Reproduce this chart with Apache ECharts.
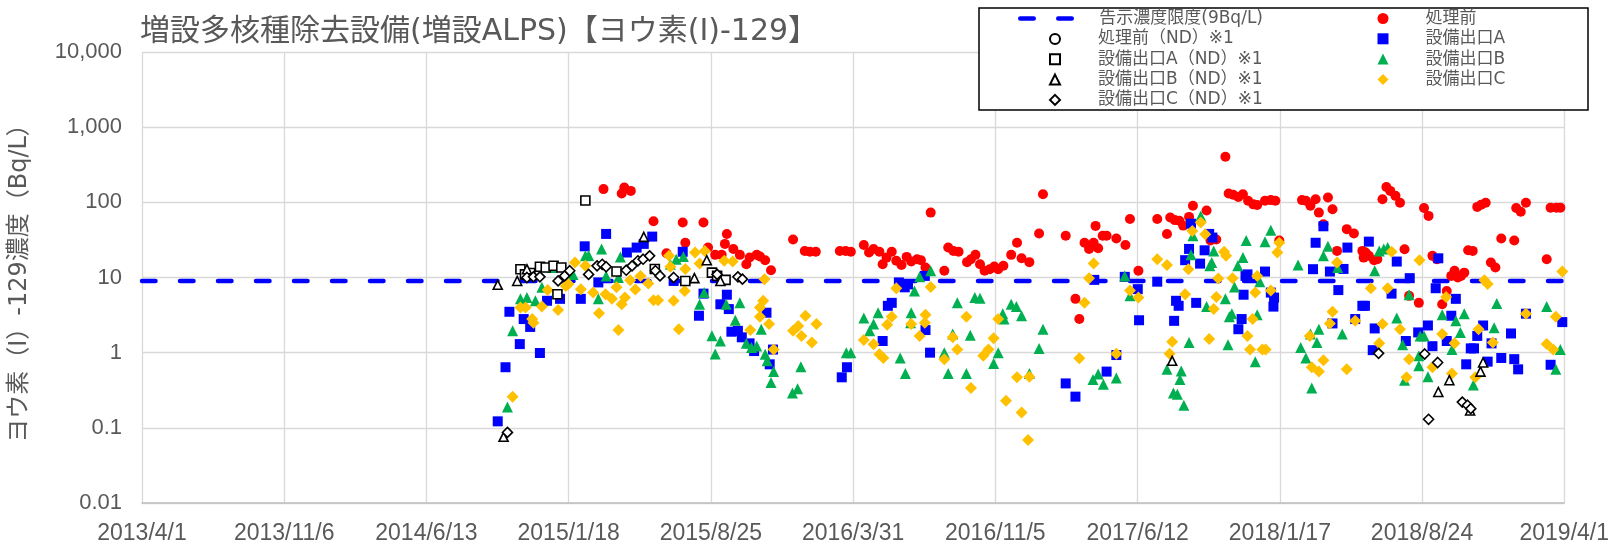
<!DOCTYPE html>
<html><head><meta charset="utf-8">
<script src="https://cdn.jsdelivr.net/npm/echarts@6/dist/echarts.min.js"></script>
<style>html,body{margin:0;padding:0;background:#fff}#c{width:1612px;height:545px}</style>
</head><body><div id="c"></div>
<script>
// ---- data ----
const chartTitle = '増設多核種除去設備(増設ALPS)【ヨウ素(I)-129】';
const yAxisName = 'ヨウ素（I）-129濃度（Bq/L）';
const xTickLabels = ['2013/4/1','2013/11/6','2014/6/13','2015/1/18','2015/8/25','2016/3/31','2016/11/5','2017/6/12','2018/1/17','2018/8/24','2019/4/1'];
const yTickLabels = ['0.01','0.1','1','10','100','1,000','10,000'];
const seriesNames = ['告示濃度限度(9Bq/L)','処理前（ND）※1','設備出口A（ND）※1','設備出口B（ND）※1','設備出口C（ND）※1','処理前','設備出口A','設備出口B','設備出口C'];
const limitValue = 9;
const limitRange = ['2013/4/1','2019/4/1'];

const beforeND = [];

const outletAND = [["2014/11/5",12.9],["2014/11/12",11],["2014/11/20",11.5],["2014/12/5",13.9],["2014/12/14",13.6],["2014/12/26",14.3],["2015/1/1",6],["2015/1/7",13.6],["2015/2/13",106],["2015/4/2",12],["2015/5/31",13],["2015/7/17",9],["2015/8/27",11.6],["2015/9/4",10.5],["2015/9/17",9.3]];

const outletBND = [["2014/10/1",8.0],["2014/10/10",0.076],["2014/10/31",9],["2014/11/15",12.9],["2015/5/14",34.7],["2015/7/31",9.8],["2015/8/19",17],["2015/9/9",9],["2017/8/5",0.78],["2018/9/19",0.3],["2018/10/6",0.43],["2018/11/7",0.17],["2018/11/23",0.56],["2018/11/27",0.74]];

const outletCND = [["2014/10/16",0.087],["2014/11/15",10],["2014/11/25",10.2],["2014/12/5",10.2],["2015/1/2",9],["2015/1/12",10.5],["2015/1/20",12.3],["2015/2/18",11],["2015/3/3",14.3],["2015/3/11",15],["2015/3/17",13.9],["2015/4/17",12.5],["2015/4/26",14.3],["2015/5/5",16.7],["2015/5/13",17.5],["2015/5/23",19.4],["2015/6/1",12.3],["2015/6/8",10.5],["2015/6/29",10],["2015/9/4",11],["2015/10/6",10.2],["2015/10/13",9.5],["2018/6/19",0.98],["2018/8/29",0.96],["2018/9/4",0.13],["2018/9/18",0.74],["2018/10/26",0.22],["2018/11/3",0.2],["2018/11/8",0.18]];

const beforeTreatment = [["2015/3/13",150],["2015/4/10",131],["2015/4/14",157],["2015/4/24",142],["2015/5/29",56],
["2015/6/18",21],["2015/7/13",54],["2015/7/17",29],["2015/8/14",54],["2015/8/21",25],["2015/9/1",20],["2015/9/11",20],["2015/9/16",28],["2015/9/19",38],["2015/9/29",24],["2015/10/9",20],["2015/10/19",15],["2015/10/24",18.5],["2015/11/4",20],["2015/11/9",19],["2015/11/17",17],["2015/11/26",12.5],["2015/12/30",32],["2016/1/17",22.5],["2016/1/25",22],["2016/2/3",22],["2016/3/11",22.5],["2016/3/20",22.5],["2016/3/28",22],
["2016/4/17",27],["2016/4/25",21.5],["2016/5/2",24],["2016/5/11",22],["2016/5/16",15],["2016/5/22",18.4],["2016/5/30",22],["2016/6/6",16.7],["2016/6/14",14.7],["2016/6/22",18.8],["2016/6/29",16.3],["2016/7/8",17.5],["2016/7/14",17],["2016/7/21",13.6],["2016/7/29",73],["2016/8/19",12.3],["2016/8/25",25],["2016/9/2",22.6],["2016/9/10",22],["2016/9/23",16],["2016/9/29",17.5],["2016/10/6",20],["2016/10/13",15],["2016/10/20",12.3],["2016/10/28",12.9],["2016/11/4",14],
["2016/11/10",12.9],["2016/11/18",14.3],["2016/11/30",20],["2016/12/9",29],["2016/12/16",18],["2016/12/28",16],["2017/1/12",38.5],["2017/1/18",128],["2017/2/22",36],["2017/3/9",5.2],["2017/3/15",2.8],["2017/3/23",29],["2017/3/30",24],["2017/4/6",29],["2017/4/9",48.6],["2017/4/13",24.5],["2017/4/20",36],["2017/4/26",36],["2017/5/11",33],["2017/5/25",27],["2017/6/1",60],
["2017/6/14",12.3],["2017/7/13",60],["2017/7/28",38],["2017/8/2",63],["2017/8/9",58],["2017/8/16",57],["2017/8/22",49],["2017/8/31",64],["2017/9/6",90],["2017/9/27",78],["2017/10/3",31],["2017/10/12",32],["2017/10/26",403],["2017/10/31",131],["2017/11/7",126],["2017/11/15",118],["2017/11/22",128],["2017/11/30",105],["2017/12/8",94],["2017/12/14",92],["2017/12/26",105],["2018/1/4",107],["2018/1/11",105],
["2018/1/17",31],["2018/2/21",107],["2018/2/27",105],["2018/3/6",90],["2018/3/14",110],["2018/3/19",73],["2018/3/26",51],["2018/4/2",116],["2018/4/9",81],["2018/4/16",22.6],["2018/5/1",44],["2018/5/12",38.5],["2018/5/25",22.6],["2018/5/27",18.4],["2018/5/30",21.5],["2018/6/4",19.4],["2018/6/12",17],["2018/6/17",17.5],["2018/6/25",110],["2018/7/1",160],["2018/7/7",142],["2018/7/15",122],["2018/7/22",99],["2018/7/29",23.8],["2018/8/5",5.7],["2018/8/20",4.6],
["2018/8/28",84],["2018/9/4",66],["2018/9/10",19.4],["2018/9/17",17.5],["2018/9/25",4.4],["2018/10/2",6.6],["2018/10/9",10.5],["2018/10/14",12.3],["2018/10/19",10],["2018/10/24",10.5],["2018/10/29",11.6],["2018/11/4",23],["2018/11/11",22.6],["2018/11/18",87],["2018/11/24",93],["2018/12/1",99],["2018/12/9",15.8],["2018/12/16",13.6],["2018/12/25",33],["2019/1/14",31],["2019/1/17",84],["2019/1/24",75],["2019/2/1",99],["2019/3/5",17.5],["2019/3/11",85],["2019/3/20",85],["2019/3/26",85]];

const outletA = [["2014/10/1",0.122],["2014/10/13",0.64],["2014/10/19",3.5],["2014/11/4",1.3],["2014/11/10",2.8],["2014/11/20",2.2],["2014/12/5",0.99],["2014/12/16",4.9],["2015/1/5",5.2],["2015/2/6",5.2],["2015/2/12",26],["2015/3/5",8.6],["2015/3/17",38],["2015/4/18",21.5],["2015/5/3",25],["2015/5/14",28],["2015/5/27",35],
["2015/6/29",9],["2015/7/13",22],["2015/8/7",3.1],["2015/8/14",6.1],["2015/9/9",4.4],["2015/9/19",5.9],["2015/9/22",3.8],["2015/9/26",1.9],["2015/10/6",1.95],["2015/10/12",1.6],["2015/10/24",1.33],["2015/10/31",1.05],["2015/11/19",3.4],["2015/11/24",0.7],["2015/11/29",1.1],["2016/3/14",0.47],["2016/3/22",0.64],
["2016/5/16",1.43],["2016/5/24",4.2],["2016/5/30",4.6],["2016/6/10",8.6],["2016/6/19",7.4],["2016/6/24",8.1],["2016/7/20",10.5],["2016/7/21",2.0],["2016/7/28",1.0],
["2017/2/22",0.39],["2017/3/9",0.26],["2017/4/7",9.3],["2017/4/26",0.56],["2017/5/11",0.93],["2017/5/24",10.2],["2017/6/13",7],["2017/6/15",2.7],
["2017/7/13",8.8],["2017/8/8",2.65],["2017/8/11",4.9],["2017/8/15",4.2],["2017/8/25",17],["2017/8/31",24],["2017/9/3",52],["2017/9/11",4.6],["2017/9/17",15.3],["2017/9/24",23],["2017/10/1",38],["2017/10/6",34],["2017/11/15",2.05],["2017/11/20",2.8],["2017/11/23",5.9],["2017/11/26",10.5],["2017/11/29",11],["2017/12/26",12],["2018/1/4",6.3],["2018/1/8",4.1],["2018/1/9",5.4],
["2018/3/10",12.9],["2018/3/14",29],["2018/3/26",48],["2018/4/5",12],["2018/4/9",2.45],["2018/4/18",6.8],["2018/4/26",13],["2018/5/2",25],["2018/5/14",2.8],["2018/5/25",4.2],["2018/5/29",4.2],["2018/6/4",30],["2018/6/10",1.08],["2018/6/13",2.1],["2018/7/9",6.1],["2018/7/17",16.3],["2018/7/31",1.43],["2018/8/6",9.8],["2018/8/19",1.86],
["2018/9/3",2.3],["2018/9/10",1.22],["2018/9/15",7.2],["2018/9/19",18],["2018/10/2",1.43],["2018/10/9",3.1],["2018/10/16",5.2],["2018/11/1",0.7],["2018/11/8",1.14],["2018/11/13",1.14],["2018/11/18",1.67],["2018/11/27",2.3],["2018/12/4",0.76],["2018/12/10",1.33],["2018/12/25",0.85],["2019/1/9",1.8],["2019/1/14",0.82],["2019/1/20",0.6],["2019/2/1",3.3],["2019/3/11",0.69],["2019/3/29",2.55]];

const outletB = [["2014/10/16",0.19],["2014/10/24",1.95],["2014/11/5",5.2],["2014/11/15",5.4],["2014/11/28",4.9],["2014/12/8",7.4],["2014/12/24",13.6],["2015/1/25",11],["2015/2/13",19.4],["2015/2/18",19.6],["2015/3/5",5.2],["2015/3/10",24],["2015/3/17",10.5],["2015/4/5",10],["2015/4/8",18.8],
["2015/6/24",15],["2015/7/3",17.5],["2015/7/14",19],["2015/8/8",4.4],["2015/8/15",6.3],["2015/8/27",1.68],["2015/9/1",0.96],["2015/9/9",1.43],["2015/9/18",4.4],["2015/10/2",2.7],["2015/10/9",4.6],["2015/10/19",1.33],["2015/10/27",1.17],["2015/11/4",1.23],["2015/11/11",2.05],["2015/11/17",0.95],["2015/11/20",0.78],["2015/11/26",0.4],["2015/11/30",0.56],["2015/12/29",0.29],["2016/1/6",0.33],["2016/1/11",0.65],["2016/3/21",1.0],["2016/3/28",1.0],
["2016/4/17",2.9],["2016/4/26",1.95],["2016/5/2",2.4],["2016/5/9",3.4],["2016/6/12",0.85],["2016/6/20",0.53],["2016/6/28",2.5],["2016/6/29",3.4],["2016/7/4",6.6],["2016/7/12",10.2],["2016/7/29",12.3],["2016/8/19",1.0],["2016/8/25",0.53],["2016/9/1",1.77],["2016/9/8",4.6],["2016/9/22",0.53],["2016/9/28",1.7],["2016/10/5",5.4],["2016/10/13",5.3],["2016/11/3",0.72],
["2016/11/10",1.0],["2016/11/17",3.3],["2016/11/19",2.8],["2016/11/30",4.4],["2016/12/8",4.1],["2016/12/16",3.1],["2016/12/28",0.53],["2017/1/12",1.14],["2017/1/18",2.05],["2017/4/5",0.44],["2017/4/13",0.52],["2017/4/21",0.38],["2017/5/11",0.46],["2017/5/24",10.5],["2017/6/1",5.7],
["2017/7/28",0.6],["2017/8/7",0.29],["2017/8/13",0.28],["2017/8/17",0.44],["2017/8/19",0.57],["2017/8/23",0.2],["2017/8/31",1.37],["2017/9/3",20],["2017/9/6",36],["2017/9/18",66],["2017/9/27",4.1],["2017/10/2",14.3],["2017/10/5",15.8],["2017/10/8",22.6],["2017/10/26",5.2],["2017/10/30",1.27],["2017/11/1",3.0],["2017/11/5",3.3],["2017/11/9",7.5],["2017/11/14",14.3],["2017/11/22",18.4],["2017/11/27",31],["2017/12/11",0.76],["2017/12/14",3.2],["2017/12/18",8.8],["2017/12/26",30],["2018/1/4",42.6],
["2018/2/15",14.7],["2018/2/19",1.17],["2018/2/27",0.85],["2018/3/6",1.77],["2018/3/8",0.34],["2018/3/16",1.37],["2018/3/19",2.05],["2018/3/26",19.4],["2018/4/2",26],["2018/4/17",13.6],["2018/4/24",1.77],["2018/6/13",12.3],["2018/6/20",22.6],["2018/6/27",24],["2018/7/3",25],["2018/7/17",2.9],["2018/7/26",1.27],["2018/7/29",0.43],["2018/8/5",5.9],["2018/8/20",0.91],["2018/8/20",0.67],["2018/8/22",1.67],
["2018/8/28",1.67],["2018/9/3",0.48],["2018/9/25",3.2],["2018/10/10",1.1],["2018/10/16",2.65],["2018/10/23",1.86],["2018/10/29",3.3],["2018/11/12",0.37],["2018/12/14",2.15],["2018/12/18",4.5],["2019/3/5",4.1],["2019/3/19",0.6],["2019/3/26",1.1]];

const outletC = [["2014/10/24",0.26],["2014/11/5",4.0],["2014/11/13",4.0],["2014/11/23",2.8],["2014/11/25",2.5],["2014/12/8",4.1],["2014/12/17",6.8],["2015/1/2",3.7],["2015/1/14",7.7],["2015/1/18",8.2],["2015/1/28",15.8],["2015/2/6",7],["2015/2/13",14.3],["2015/2/25",6.3],["2015/3/6",3.35],["2015/3/16",6],["2015/3/26",5.2],["2015/4/2",7.4],["2015/4/5",2.0],["2015/4/10",4.4],["2015/4/15",5.4],["2015/4/23",9.2],["2015/5/1",6.9],["2015/5/9",10.5],["2015/5/21",8.3],["2015/5/29",5],
["2015/6/5",5],["2015/6/22",19.4],["2015/6/24",13.9],["2015/6/29",4.9],["2015/7/7",2.05],["2015/7/16",6.6],["2015/7/17",13],["2015/8/1",21.5],["2015/8/8",15.3],["2015/8/16",22.6],["2015/9/15",16.7],["2015/9/28",16.3],["2015/10/25",2.0],["2015/11/9",3.0],["2015/11/9",4],["2015/11/14",4.9],["2015/11/16",9.5],["2015/11/23",2.4],["2015/11/30",1.1],["2015/12/30",1.95],["2016/1/7",2.27],["2016/1/12",1.67],["2016/1/18",3.1],["2016/1/28",1.37],["2016/2/4",2.4],
["2016/4/17",1.47],["2016/5/2",1.29],["2016/5/11",0.95],["2016/5/17",0.85],["2016/5/23",2.35],["2016/5/30",3.0],["2016/6/6",7.2],["2016/6/29",2.4],["2016/7/12",1.67],["2016/7/20",2.5],["2016/7/21",3.2],["2016/7/29",7.5],["2016/8/19",0.82],["2016/9/1",1.6],["2016/9/8",1.1],["2016/9/22",3.0],["2016/9/29",0.34],["2016/10/18",0.91],["2016/10/26",1.1],["2016/11/3",1.55],
["2016/11/10",2.8],["2016/11/22",0.23],["2016/12/9",0.47],["2016/12/16",0.16],["2016/12/26",0.069],["2016/12/28",0.48],["2017/3/15",0.84],["2017/3/23",4.6],["2017/3/30",9.8],["2017/4/6",15.3],["2017/5/11",0.97],["2017/6/1",6.7],
["2017/6/14",5.4],["2017/7/13",17.5],["2017/7/28",14.7],["2017/8/1",0.97],["2017/8/5",1.4],["2017/8/25",6],["2017/8/30",12.9],["2017/9/5",41.6],["2017/9/18",54],["2017/9/25",37.7],["2017/10/1",1.52],["2017/10/8",3.8],["2017/10/12",5.5],["2017/10/15",9.7],["2017/10/24",22],["2017/10/27",19.4],["2017/11/6",9.8],["2017/11/29",1.67],["2017/12/3",1.1],["2017/12/7",2.8],["2017/12/11",6.3],["2017/12/14",10.5],["2017/12/22",1.1],["2017/12/27",1.1],["2018/1/4",6.7],["2018/1/14",21.5],["2018/1/17",29],
["2018/3/5",1.67],["2018/3/8",0.64],["2018/3/19",0.56],["2018/3/26",0.79],["2018/4/5",2.45],["2018/4/9",3.5],["2018/4/16",15.8],["2018/5/1",0.6],["2018/5/14",2.65],["2018/6/7",7.2],["2018/6/20",1.33],["2018/6/25",2.4],["2018/7/3",7.2],["2018/7/9",22],["2018/7/22",2.05],["2018/8/1",0.47],["2018/8/5",0.82],["2018/8/21",17],
["2018/9/10",0.64],["2018/9/25",1.77],["2018/10/1",5.5],["2018/10/10",0.53],["2018/10/14",1.33],["2018/11/15",0.47],["2018/11/20",2.05],["2018/11/29",9.2],["2018/12/4",8.2],["2018/12/12",1.37],["2019/2/1",3.3],["2019/3/5",1.3],["2019/3/15",1.1],["2019/3/19",3.0],["2019/3/29",12]];

// ---- helpers ----
const ORIGIN = Date.UTC(2013, 3, 1);
const TICK_DAYS = 219.1;
function toDay(s) { const p = s.split('/').map(Number); return (Date.UTC(p[0], p[1] - 1, p[2]) - ORIGIN) / 86400000; }
function conv(arr) { return arr.map(d => [toDay(d[0]), d[1]]); }
const xMax = toDay(xTickLabels[xTickLabels.length - 1]);

const FONT_NUM = '"Liberation Sans", Arial, sans-serif';
const FONT_JP = '"DejaVu Sans", "Noto Sans CJK JP", sans-serif';
const GRAY = '#595959';

function filled(name, data, symbol, size, color) {
  return { name, type: 'scatter', data: conv(data), symbol, symbolSize: size,
    itemStyle: { color: color, opacity: 1 }, z: 3, silent: true };
}
function open(name, data, symbol, size) {
  return { name, type: 'scatter', data: conv(data), symbol, symbolSize: size,
    itemStyle: { color: '#ffffff', borderColor: '#000000', borderWidth: 1.6, opacity: 1 }, z: 4, silent: true };
}

const chart = echarts.init(document.getElementById('c'), null, { renderer: 'canvas' });
const legendText = { fontSize: 17, color: GRAY, fontFamily: FONT_JP };
chart.setOption({
  animation: false,
  backgroundColor: '#ffffff',
  title: { text: chartTitle, left: 140, top: 17, padding: 0,
    textStyle: { fontSize: 30, fontWeight: 'normal', color: GRAY, fontFamily: FONT_JP } },
  graphic: [{ type: 'rect', z: 3, shape: { x: 979, y: 8, width: 609, height: 102 },
    style: { fill: '#ffffff', stroke: '#000000', lineWidth: 1.5 } }],
  legend: [
    { data: [seriesNames[0]], orient: 'vertical', left: 1018, top: 10, padding: 0,
      itemWidth: 59, itemHeight: 11, selectedMode: false,
      lineStyle: { width: 4.5 },
      itemStyle: { opacity: 0, color: 'rgba(0,0,0,0)', borderWidth: 0 },
      textStyle: Object.assign({ padding: [0, 0, 0, 15] }, legendText) },
    { data: seriesNames.slice(1, 5), orient: 'vertical', left: 1049, top: 30.5, padding: 0,
      itemWidth: 10, itemHeight: 10, itemGap: 3.3, selectedMode: false,
      textStyle: Object.assign({ padding: [0, 0, 0, 33] }, legendText) },
    { data: seriesNames.slice(5), orient: 'vertical', left: 1377.5, top: 10, padding: 0,
      itemWidth: 11, itemHeight: 11, itemGap: 3.3, selectedMode: false,
      textStyle: Object.assign({ padding: [0, 0, 0, 32] }, legendText) }
  ],
  grid: { left: 141, right: 47, top: 52, bottom: 41, containLabel: false },
  xAxis: {
    type: 'value', min: 0, max: xMax, interval: TICK_DAYS,
    axisLine: { show: true, lineStyle: { color: '#BFBFBF', width: 1.5 } },
    axisTick: { show: false },
    splitLine: { show: true, lineStyle: { color: '#D9D9D9', width: 1.3 } },
    axisLabel: { show: true, margin: 19, fontSize: 23, color: GRAY, fontFamily: FONT_NUM,
      showMinLabel: true, showMaxLabel: true, hideOverlap: false,
      formatter: v => xTickLabels[Math.round(v / TICK_DAYS)] || '' }
  },
  yAxis: {
    type: 'log', logBase: 10, min: 0.01, max: 10000,
    name: yAxisName, nameLocation: 'middle', nameGap: 110,
    nameTextStyle: { fontSize: 24, color: GRAY, fontFamily: FONT_JP },
    axisLine: { show: false }, axisTick: { show: false },
    splitLine: { show: true, lineStyle: { color: '#D9D9D9', width: 1.3 } },
    minorSplitLine: { show: false },
    axisLabel: { margin: 20, fontSize: 22, color: GRAY, fontFamily: FONT_NUM,
      formatter: v => yTickLabels[Math.round(Math.log10(v)) + 2] || '' }
  },
  series: [
    { name: seriesNames[0], type: 'line', symbol: 'none', silent: true, z: 2,
      data: limitRange.map(d => [toDay(d), limitValue]),
      lineStyle: { color: '#0000FF', width: 4.5, type: [13.5, 24.5], cap: 'round' } },
    filled(seriesNames[5], beforeTreatment, 'circle', 10, '#FF0000'),
    filled(seriesNames[6], outletA, 'rect', 10, '#0000FF'),
    filled(seriesNames[7], outletB, 'triangle', 11, '#00B050'),
    filled(seriesNames[8], outletC, 'diamond', 12, '#FFC000'),
    open(seriesNames[1], beforeND, 'circle', 9),
    open(seriesNames[2], outletAND, 'rect', 9),
    open(seriesNames[3], outletBND, 'triangle', 9),
    open(seriesNames[4], outletCND, 'diamond', 10)
  ]
});
</script></body></html>
